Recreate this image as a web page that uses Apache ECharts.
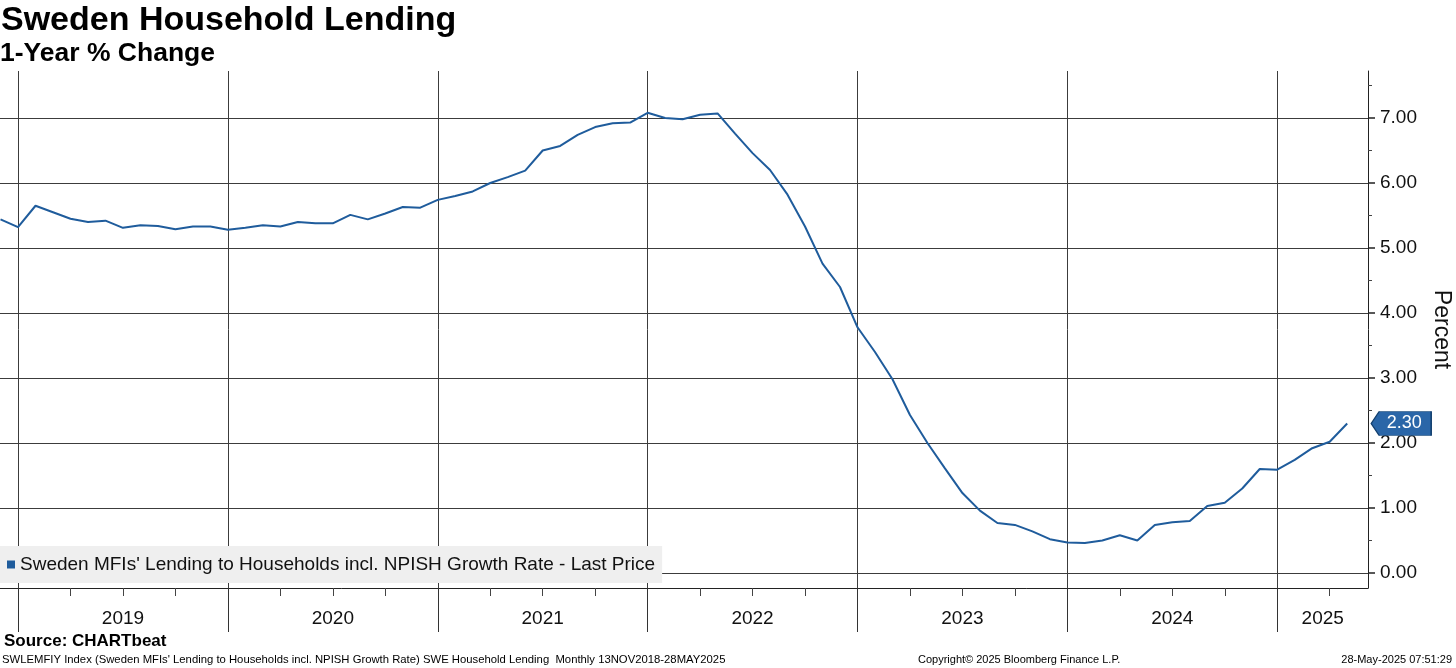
<!DOCTYPE html>
<html><head><meta charset="utf-8">
<script src="https://cdn.jsdelivr.net/npm/echarts@6/dist/echarts.min.js"></script>
<style>html,body{margin:0;padding:0;background:#fff}#c{width:1456px;height:668px}</style>
</head><body><div id="c"></div>
<script>
const titleText = 'Sweden Household Lending';
const subtitleText = '1-Year % Change';
const seriesName = "Sweden MFIs' Lending to Households incl. NPISH Growth Rate - Last Price";
const axisName = 'Percent';
const sourceText = 'Source: CHARTbeat';
const footLeft = "SWLEMFIY Index (Sweden MFIs' Lending to Households incl. NPISH Growth Rate) SWE Household Lending  Monthly 13NOV2018-28MAY2025";
const footMid = 'Copyright\u00a9 2025 Bloomberg Finance L.P.';
const footRight = '28-May-2025 07:51:29';

// monthly values, Nov 2018 .. Apr 2025
const values2018 = [5.44, 5.32];
const values2019 = [5.65, 5.55, 5.45, 5.40, 5.42, 5.31, 5.35, 5.34, 5.29, 5.33, 5.33, 5.28];
const values2020 = [5.31, 5.35, 5.33, 5.40, 5.38, 5.38, 5.51, 5.44, 5.53, 5.63, 5.62, 5.74];
const values2021 = [5.80, 5.87, 6.00, 6.09, 6.19, 6.50, 6.57, 6.74, 6.86, 6.92, 6.93, 7.08];
const values2022 = [7.00, 6.98, 7.05, 7.07, 6.76, 6.46, 6.20, 5.82, 5.33, 4.76, 4.40, 3.78];
const values2023 = [3.40, 2.98, 2.43, 2.00, 1.61, 1.23, 0.96, 0.77, 0.74, 0.64, 0.52, 0.47];
const values2024 = [0.46, 0.50, 0.58, 0.50, 0.74, 0.78, 0.80, 1.03, 1.08, 1.30, 1.60, 1.59];
const values2025 = [1.74, 1.92, 2.02, 2.30];

const yearLabels = ['2019', '2020', '2021', '2022', '2023', '2024', '2025'];
const yearBoundaries = [0, 12, 24, 36, 48, 60, 72];           // months after end of Dec 2018
const yearLabelPos = [6, 18, 30, 42, 54, 66, 74.6];
const quarterTicks = [3, 6, 9, 15, 18, 21, 27, 30, 33, 39, 42, 45, 51, 54, 57, 63, 66, 69, 75];
const yTicks = [0, 1, 2, 3, 4, 5, 6, 7];
const yMinorTicks = [0.5, 1.5, 2.5, 3.5, 4.5, 5.5, 6.5, 7.5];

const allValues = [].concat(values2018, values2019, values2020, values2021, values2022, values2023, values2024, values2025);
const seriesData = allValues.map((v, i) => [i - 1, v]);
const last = seriesData[seriesData.length - 1];

const FONT = 'Liberation Sans';
const LINE = '#1f5c9c';
const GRIDC = '#3c3c3c';
const xMin = -1.03, xMax = 77.19, yMin = -0.2308, yMax = 7.723;

const chart = echarts.init(document.getElementById('c'), null, { renderer: 'canvas' });
chart.setOption({
  animation: false,
  backgroundColor: '#ffffff',
  textStyle: { fontFamily: FONT },
  title: [
    { text: titleText, left: 1, top: 4, padding: 0, textStyle: { fontFamily: FONT, fontWeight: 'bold', fontSize: 34, color: '#000' } },
    { text: subtitleText, left: 0, top: 40, padding: 0, textStyle: { fontFamily: FONT, fontWeight: 'bold', fontSize: 26.5, color: '#000' } }
  ],
  legend: {
    data: [seriesName], left: 0, top: 546, orient: 'horizontal',
    backgroundColor: '#efefef', padding: [9, 7, 9, 7],
    icon: 'rect', itemWidth: 8, itemHeight: 8,
    textStyle: { fontFamily: FONT, fontSize: 19, color: '#111', lineHeight: 18 },
    selectedMode: false
  },
  grid: { left: 0, right: 88, top: 71, bottom: 80, containLabel: false, outerBoundsMode: 'none' },
  xAxis: [
    {
      type: 'value', position: 'bottom', min: xMin, max: xMax,
      axisLine: { show: true, onZero: false, lineStyle: { color: '#222', width: 1 } },
      axisTick: { show: true, customValues: yearBoundaries, length: 44, lineStyle: { color: '#333', width: 1 } },
      axisLabel: { show: true, customValues: yearLabelPos, margin: 21, fontSize: 19, color: '#111', fontFamily: FONT,
        formatter: v => yearLabels[Math.floor(v / 12)] },
      splitLine: { show: true, lineStyle: { color: GRIDC, width: 1 } }
    },
    {
      type: 'value', position: 'bottom', min: xMin, max: xMax,
      axisLine: { show: false, onZero: false },
      axisTick: { show: true, customValues: quarterTicks, length: 8, lineStyle: { color: '#444', width: 1 } },
      axisLabel: { show: false },
      splitLine: { show: false }
    }
  ],
  yAxis: [
    {
      type: 'value', position: 'right', min: yMin, max: yMax,
      name: axisName, nameLocation: 'middle', nameRotate: -90, nameGap: 62,
      nameTextStyle: { fontFamily: FONT, fontSize: 23, color: '#111' },
      axisLine: { show: true, onZero: false, lineStyle: { color: '#222', width: 1 } },
      axisTick: { show: true, customValues: yTicks, length: 7, lineStyle: { color: '#222', width: 1.5 } },
      axisLabel: { show: true, customValues: yTicks, margin: 12, fontSize: 19, color: '#111', fontFamily: FONT,
        formatter: v => v.toFixed(2) },
      splitLine: { show: true, lineStyle: { color: GRIDC, width: 1 } }
    },
    {
      type: 'value', position: 'right', min: yMin, max: yMax,
      axisLine: { show: false, onZero: false },
      axisTick: { show: true, customValues: yMinorTicks, length: 4, lineStyle: { color: '#444', width: 1 } },
      axisLabel: { show: false },
      splitLine: { show: false }
    }
  ],
  series: [{
    name: seriesName, type: 'line', data: seriesData, showSymbol: false, symbol: 'none',
    lineStyle: { color: LINE, width: 2 }, itemStyle: { color: LINE },
    markPoint: {
      silent: true, animation: false,
      data: [{ coord: last, value: last[1] }],
      symbol: 'path://M0,12L8,0L60,0L60,24L8,24Z', symbolSize: [60, 24], symbolKeepAspect: false,
      symbolOffset: [54, 0],
      itemStyle: { color: '#2a66a8', borderColor: '#13406f', borderWidth: 1 },
      label: { show: true, position: 'inside', offset: [3, 0], color: '#fff', fontSize: 18, fontFamily: FONT,
        formatter: p => Number(p.value).toFixed(2) }
    }
  }],
  graphic: [
    { type: 'text', left: 4, top: 633, style: { text: sourceText, font: 'bold 17px "Liberation Sans"', fill: '#000' } },
    { type: 'text', left: 2, top: 654, style: { text: footLeft, font: '11.3px "Liberation Sans"', fill: '#000' } },
    { type: 'text', left: 918, top: 654, style: { text: footMid, font: '11px "Liberation Sans"', fill: '#000' } },
    { type: 'text', right: 4, top: 654, style: { text: footRight, font: '11px "Liberation Sans"', fill: '#000' } }
  ]
});
</script></body></html>
